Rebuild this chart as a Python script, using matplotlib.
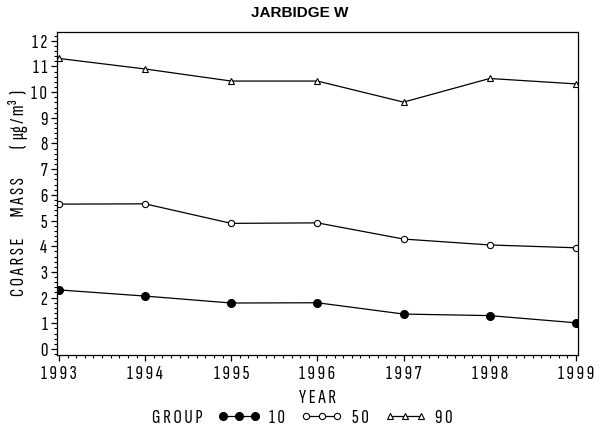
import matplotlib
matplotlib.use('Agg')
import matplotlib.pyplot as plt
from matplotlib.ticker import MultipleLocator, FixedLocator, FixedFormatter

# data
years = [1993, 1994, 1995, 1996, 1997, 1998, 1999]
group_labels = ['10', '50', '90']
p10 = [2.30, 2.06, 1.79, 1.80, 1.36, 1.30, 1.02]
p50 = [5.64, 5.65, 4.89, 4.91, 4.28, 4.05, 3.94]
p90 = [11.31, 10.90, 10.43, 10.43, 9.61, 10.53, 10.32]
y_ticks = list(range(0, 13))

narrow = ['Sofia Sans Extra Condensed', 'Sofia Sans Condensed', 'DejaVu Sans']
plt.rcParams['font.family'] = narrow
FS = 15


def spaced(s):
    return ' '.join(s)


fig = plt.figure(figsize=(6, 4.3), dpi=100)
ax = fig.add_axes([0.095, 0.1744, 0.868, 0.7512])

l10, = ax.plot(years, p10, color='black', lw=0.9, marker='o', ms=5.5,
               mfc='black', mec='black')
l50, = ax.plot(years, p50, color='black', lw=0.9, marker='o', ms=4.5,
               mfc='white', mec='black', mew=0.8)
l90, = ax.plot(years, p90, color='black', lw=0.9, marker='^', ms=5,
               mfc='white', mec='black', mew=0.8)

ax.set_xlim(1992.977, 1999.023)
ax.set_ylim(-0.234, 12.34)

ax.xaxis.set_major_locator(FixedLocator(years))
ax.xaxis.set_major_formatter(FixedFormatter([spaced(str(y)) for y in years]))
ax.xaxis.set_minor_locator(MultipleLocator(0.1))
ax.yaxis.set_major_locator(FixedLocator(y_ticks))
ax.yaxis.set_major_formatter(FixedFormatter([spaced(str(v)) for v in y_ticks]))
ax.yaxis.set_minor_locator(MultipleLocator(0.2))

ax.tick_params(axis='both', which='major', direction='out', length=4,
               width=0.9, labelsize=FS, pad=3)
ax.tick_params(axis='both', which='minor', direction='out', length=2,
               width=0.8)
for sp in ax.spines.values():
    sp.set_linewidth(0.9)

ax.set_xlabel(spaced('YEAR'), fontsize=FS, va='center')
ax.xaxis.set_label_coords(0.5, -0.133)
ax.set_ylabel(spaced('COARSE') + '        ' + spaced('MASS')
              + '           (  μg / m³  )',
              fontsize=FS, va='center')
ax.yaxis.set_label_coords(-0.075, 0.5)

fig.text(0.5, 0.97, 'JARBIDGE W', fontsize=11, fontweight='bold',
         family=['Liberation Sans', 'DejaVu Sans'], ha='center', va='center')

fig.text(0.253, 0.028, spaced('GROUP'), fontsize=FS, ha='left', va='center')
leg = fig.legend([l10, l50, l90], [spaced(g) for g in group_labels],
                 ncol=3, loc='center left', bbox_to_anchor=(0.362, 0.028),
                 frameon=False, numpoints=3, handlelength=2.1,
                 handletextpad=0.4, columnspacing=0.7, fontsize=FS,
                 borderpad=0, borderaxespad=0)

fig.savefig('out.png', dpi=100)
